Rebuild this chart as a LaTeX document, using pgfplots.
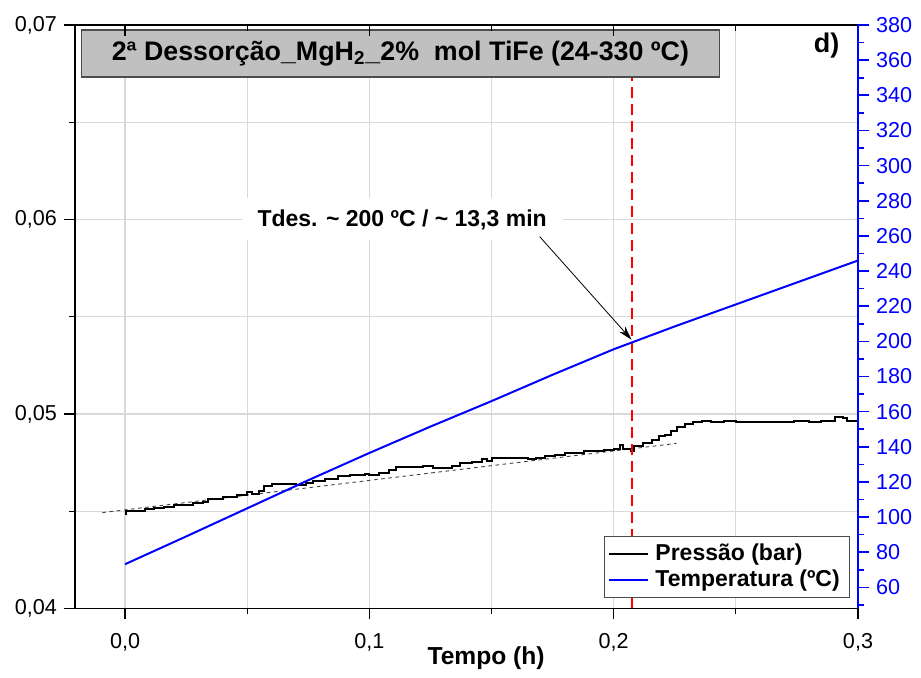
\documentclass[border=0pt]{standalone}
\usepackage{fontspec}
\setmainfont{Liberation Sans}
\usepackage{pgfplots}
\pgfplotsset{compat=1.18}
\usetikzlibrary{arrows.meta}
\definecolor{gridgray}{RGB}{217,217,217}
\definecolor{boxgray}{RGB}{192,192,192}

\pgfplotstableread{
t p
0.0000 0.04485
0.0005 0.04500
0.004 0.04502
0.008 0.04510
0.012 0.04515
0.016 0.04520
0.020 0.04530
0.024 0.04530
0.028 0.04540
0.032 0.04548
0.034 0.04562
0.040 0.04572
0.046 0.04585
0.050 0.04598
0.052 0.04590
0.055 0.04605
0.057 0.04630
0.060 0.04640
0.066 0.04640
0.070 0.04635
0.074 0.04645
0.077 0.04655
0.082 0.04665
0.087 0.04680
0.092 0.04685
0.098 0.04690
0.100 0.04688
0.104 0.04695
0.108 0.04710
0.111 0.04725
0.116 0.04730
0.122 0.04733
0.126 0.04722
0.131 0.04724
0.134 0.04735
0.137 0.04748
0.142 0.04755
0.146 0.04770
0.148 0.04760
0.150 0.04775
0.156 0.04772
0.160 0.04775
0.165 0.04768
0.168 0.04776
0.172 0.04782
0.176 0.04790
0.180 0.04800
0.184 0.04802
0.188 0.04808
0.192 0.04812
0.196 0.04815
0.200 0.04818
0.2025 0.04842
0.204 0.04822
0.207 0.04812
0.2085 0.04835
0.212 0.04850
0.2155 0.04868
0.2185 0.04885
0.221 0.04893
0.2235 0.04912
0.226 0.04935
0.229 0.04950
0.2325 0.04960
0.236 0.04963
0.240 0.04958
0.245 0.04962
0.250 0.04960
0.256 0.04957
0.262 0.04961
0.268 0.04958
0.274 0.04962
0.280 0.04960
0.285 0.04962
0.2895 0.04962
0.2905 0.04982
0.294 0.04980
0.2955 0.04965
0.2975 0.04962
0.3000 0.04952
}\pressao

\pgfplotstableread{
t T
0.000 73.2
0.025 89.0
0.050 105.0
0.075 121.0
0.100 136.5
0.125 151.5
0.150 166.0
0.175 181.0
0.200 195.5
0.225 208.5
0.250 221.0
0.275 233.5
0.300 246.0
}\temperatura

\begin{document}
\begin{tikzpicture}
\useasboundingbox (-37.5pt,-34.75pt) rectangle (423pt,304.25pt);
\pgfplotsset{
  every tick label/.append style={font=\fontsize{10.8}{12}\selectfont},
  /pgf/number format/assume math mode=true,
  /pgf/number format/use comma,
}
\begin{axis}[
  scale only axis, width=391.5pt, height=291.75pt,
  xmin=-0.0205, xmax=0.3, ymin=0.04, ymax=0.07,
  axis x line*=bottom, axis y line*=left,
  axis line style={black, line width=0.8pt},
  tick align=outside,
  major tick length=5.5pt, minor tick length=3pt,
  tick style={black, line width=0.6pt},
  xtick={0,0.1,0.2,0.3}, minor xtick={0.05,0.15,0.25},
  ytick={0.04,0.05,0.06,0.07}, minor ytick={0.045,0.055,0.065},
  xticklabel style={yshift=-3.5pt, /pgf/number format/fixed, /pgf/number format/fixed zerofill, /pgf/number format/precision=1},
  yticklabel style={/pgf/number format/fixed, /pgf/number format/fixed zerofill, /pgf/number format/precision=2},
  scaled ticks=false,
  grid=both,
  major grid style={gridgray, line width=0.6pt},
  minor grid style={gridgray, line width=0.6pt},
  xlabel={\bfseries Tempo (h)},
  xlabel style={at={(rel axis cs:0.525,0)}, anchor=center, yshift=-25pt, font=\fontsize{12.3}{14}\selectfont},
]
\addplot[black!75, line width=0.45pt, dash pattern=on 1.8pt off 1.8pt] coordinates {(-0.0093,0.04493) (0.2257,0.04849)};
\addplot[black, line width=1pt, const plot] table[x=t, y=p] {\pressao};
\addplot[red, line width=1pt, dash pattern=on 5.5pt off 3pt] coordinates {(0.2073,0.04) (0.2073,0.0698)};
\node[draw=black!70, line width=0.6pt, fill=boxgray, minimum width=319pt, minimum height=23.5pt, inner sep=0pt,
  font=\bfseries\fontsize{13.4}{15}\selectfont] at (axis cs:0.1127,0.06853)
  {2ª Dessorção\_MgH\textsubscript{2}\_2\%\ \ mol TiFe (24-330 ºC)};
\node[font=\bfseries\fontsize{13.5}{15}\selectfont] at (axis cs:0.2872,0.06897) {d)};
\node[fill=white, inner xsep=8pt, minimum height=21pt, font=\bfseries\fontsize{11.5}{13}\selectfont]
  at (axis cs:0.1134,0.0600) {Tdes. \textasciitilde{} 200 ºC / \textasciitilde{} 13,3 min};
\draw[-{Stealth[length=7pt,width=4pt]}, line width=0.4pt] (axis cs:0.1697,0.05912) -- (axis cs:0.2073,0.05382);
\end{axis}

\begin{axis}[
  scale only axis, width=391.5pt, height=291.75pt,
  xmin=-0.0205, xmax=0.3, ymin=48, ymax=380,
  axis x line*=top, axis y line*=right,
  x axis line style={black, line width=0.8pt},
  y axis line style={blue, line width=1.2pt},
  xtick={0,0.1,0.2,0.3}, minor xtick={0.05,0.15,0.25}, xticklabels={},
  xtick align=inside, ytick align=outside,
  major tick length=5.5pt, minor tick length=3pt,
  x tick style={black, line width=0.6pt},
  y tick style={blue, line width=0.8pt},
  ytick={60,80,...,380}, minor ytick={50,70,...,370},
  yticklabel style={blue},
  legend cell align=left,
  legend style={at={(rel axis cs:0.99,0.018)}, anchor=south east, draw=black!70,
    font=\bfseries\fontsize{11.5}{13}\selectfont, row sep=-1pt, inner sep=2pt,
    nodes={inner xsep=3pt}},
  legend image post style={xscale=1.15},
]
\addlegendimage{black, line width=1pt}
\addlegendentry{Pressão (bar)}
\addplot[blue, line width=1pt] table[x=t, y=T] {\temperatura};
\addlegendentry{Temperatura (ºC)}
\end{axis}
\end{tikzpicture}
\end{document}
